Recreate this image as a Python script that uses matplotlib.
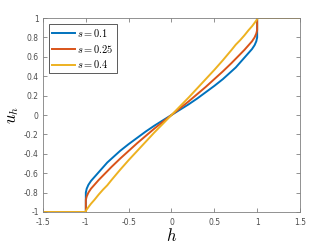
import numpy as np
import matplotlib.pyplot as plt

plt.rcParams['mathtext.fontset'] = 'cm'

# values (u_h against h)
h = [-1.5, -1.0, -1.0, -0.99, -0.97, -0.94, -0.9, -0.85, -0.8, -0.75, -0.7, -0.6, -0.5, -0.4, -0.3, -0.2, -0.1, 0.0,
     0.1, 0.2, 0.3, 0.4, 0.5, 0.6, 0.7, 0.75, 0.8, 0.85, 0.9, 0.94, 0.97, 0.99, 1.0, 1.0, 1.5]
u_s01 = [-1.0, -1.0, -0.80, -0.76, -0.72, -0.68, -0.64, -0.59, -0.54, -0.49, -0.45, -0.37, -0.30, -0.235, -0.17, -0.11, -0.055, 0.0,
         0.055, 0.11, 0.17, 0.235, 0.30, 0.37, 0.45, 0.49, 0.54, 0.59, 0.64, 0.68, 0.72, 0.76, 0.80, 1.0, 1.0]
u_s025 = [-1.0, -1.0, -0.875, -0.84, -0.80, -0.76, -0.72, -0.67, -0.625, -0.58, -0.535, -0.45, -0.37, -0.29, -0.215, -0.14, -0.07, 0.0,
          0.07, 0.14, 0.215, 0.29, 0.37, 0.45, 0.535, 0.58, 0.625, 0.67, 0.72, 0.76, 0.80, 0.84, 0.875, 1.0, 1.0]
u_s04 = [-1.0, -1.0, -0.99, -0.975, -0.95, -0.915, -0.875, -0.82, -0.77, -0.725, -0.67, -0.565, -0.465, -0.37, -0.275, -0.18, -0.09, 0.0,
         0.09, 0.18, 0.275, 0.37, 0.465, 0.565, 0.67, 0.725, 0.77, 0.82, 0.875, 0.915, 0.95, 0.975, 0.99, 1.0, 1.0]
labels = ['$s = 0.1$', '$s = 0.25$', '$s = 0.4$']
colors = ['#0072BD', '#D95319', '#EDB120']

fig = plt.figure(figsize=(3.32, 2.45), dpi=100)
ax = fig.add_axes([0.1295, 0.1347, 0.7741, 0.7918])

for u, lab, c in zip([u_s01, u_s025, u_s04], labels, colors):
    ax.plot(h, u, color=c, lw=1.4, label=lab)

ax.set_xlim(-1.5, 1.5)
ax.set_ylim(-1, 1)
ax.set_xticks(np.arange(-1.5, 1.51, 0.5))
ax.set_xticklabels(['-1.5', '-1', '-0.5', '0', '0.5', '1', '1.5'])
ax.set_yticks(np.arange(-1, 1.01, 0.2))
ax.set_yticklabels(['-1', '-0.8', '-0.6', '-0.4', '-0.2', '0', '0.2', '0.4', '0.6', '0.8', '1'])
ax.tick_params(direction='in', length=3, width=0.6, colors='#808080', labelcolor='#4d4d4d',
               labelsize=5.5, top=True, right=True)
ax.tick_params(axis='x', pad=4.5)
ax.tick_params(axis='y', pad=3)
for sp in ax.spines.values():
    sp.set_color('#808080')
    sp.set_linewidth(0.6)

ax.set_xlabel('$h$', fontsize=12, labelpad=0)
ax.set_ylabel('$u_h$', fontsize=12, labelpad=2)

leg = ax.legend(loc='upper left', fontsize=7.5, handlelength=2.2, handletextpad=0.2,
                borderpad=0.3, labelspacing=0.35, fancybox=False, framealpha=1,
                bbox_to_anchor=(0.023, 0.97), borderaxespad=0)
leg.get_frame().set_edgecolor('#404040')
leg.get_frame().set_linewidth(0.6)

fig.savefig('out.png', dpi=100)
